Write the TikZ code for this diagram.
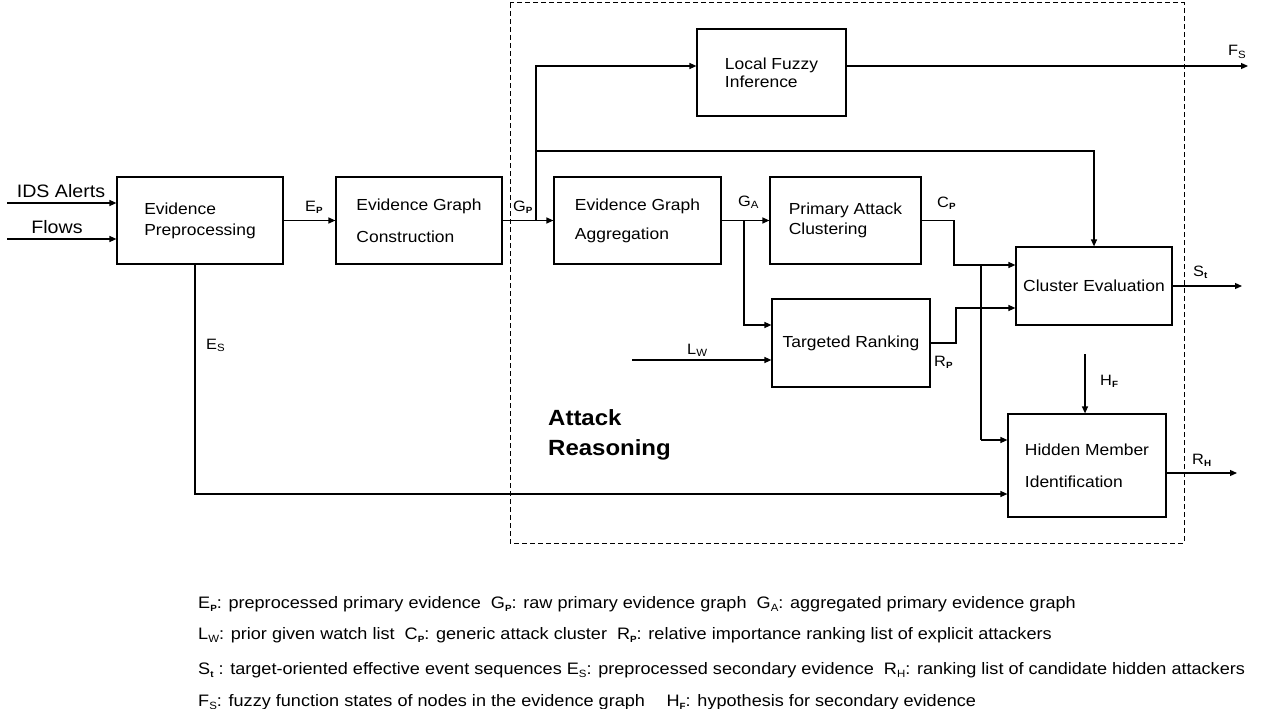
\documentclass[tikz,border=0pt]{standalone}
\usepackage{fontspec}
\setmainfont{Liberation Sans}[FakeStretch=1.09]
\usetikzlibrary{arrows.meta}
\newcommand{\sbb}[1]{\raisebox{-0.35ex}{\fontsize{9}{9}\selectfont\bfseries #1}}
\newcommand{\sbn}[1]{\raisebox{-0.35ex}{\fontsize{10.5}{10.5}\selectfont #1}}
\begin{document}
\begin{tikzpicture}[x=1pt,y=-1pt,
 box/.style={draw,line width=1.2pt,inner sep=0pt,align=left,font=\fontsize{16}{20}\selectfont},
 arr/.style={line width=1.2pt,-{Triangle[length=7pt,width=6pt]}},
 ln/.style={line width=1.2pt},
 frame/.style={line width=1pt,dash pattern=on 5pt off 3pt},
 lbl/.style={inner sep=0pt,anchor=base west,font=\fontsize{15}{18}\selectfont},
 big/.style={inner sep=0pt,anchor=base,font=\fontsize{18}{20}\selectfont},
 leg/.style={inner sep=0pt,anchor=base west,font=\fontsize{16.6}{18}\selectfont}]
\useasboundingbox (0,0) rectangle (1282,709);

% dashed frame
\draw[frame] (510,3) rectangle (1184,543);

% boxes
\node[box,minimum width=166pt,minimum height=87pt] (pre) at (200,220.5) {Evidence\\[1pt]Preprocessing};
\node[box,minimum width=166pt,minimum height=87pt] (egc) at (419,220.5) {Evidence Graph\\[12pt]Construction};
\node[box,minimum width=167pt,minimum height=87pt] (agg) at (637.5,220.5) {Evidence Graph\\[9pt]Aggregation};
\node[box,minimum width=149pt,minimum height=87pt] (lfi) at (771.5,72.5) {Local Fuzzy\\[-2pt]Inference};
\node[box,minimum width=151pt,minimum height=87pt] (pac) at (845.5,220.5) {Primary Attack\\Clustering};
\node[box,minimum width=158pt,minimum height=88pt] (tr) at (851,343) {Targeted Ranking};
\node[box,minimum width=156pt,minimum height=78pt] (ce) at (1094,286) {Cluster Evaluation};
\node[box,minimum width=158pt,minimum height=103pt] (hm) at (1087,465.5) {Hidden Member\\[12pt]Identification};

% free ends and bends
\coordinate (ids) at (7,203);
\coordinate (flw) at (7,239);
\coordinate (gpj) at (536,220.5);
\coordinate (gpt) at (536,151);
\coordinate (fse) at (1248,66);
\coordinate (gaj) at (744,220.5);
\coordinate (tra) at (744,325);
\coordinate (lw) at (632,360);
\coordinate (cpk) at (954,265);
\coordinate (vj) at (981,265);
\coordinate (hma) at (981,440);
\coordinate (rpk) at (956,308);
\coordinate (hf) at (1085,354);
\coordinate (esd) at (195,494);
\coordinate (ste) at (1242,286);
\coordinate (rhs) at (1166,473);
\coordinate (rhe) at (1237,473);

% connectors
\draw[arr] (ids) -- (ids -| pre.west);
\draw[arr] (flw) -- (flw -| pre.west);
\draw[arr] (pre.east) -- (egc.west);
\draw[arr] (egc.east) -- (agg.west);
\draw[arr] (gpj) |- (lfi.west |- fse);
\draw[arr] (lfi.east |- fse) -- (fse);
\draw[arr] (gpt) -| (ce.north);
\draw[arr] (agg.east) -- (pac.west);
\draw[arr] (gaj) |- (tr.west |- tra);
\draw[arr] (lw) -- (tr.west |- lw);
\draw[arr] (pac.east) -| (cpk) -- (ce.west |- cpk);
\draw[ln] (vj) -- (hma);
\draw[arr] (hma) -- (hm.west |- hma);
\draw[arr] (tr.east) -| (rpk) -- (ce.west |- rpk);
\draw[arr] (hf) -- (hf |- hm.north);
\draw[arr] (pre.south -| esd) |- (hm.west |- esd);
\draw[arr] (ce.east) -- (ste);
\draw[arr] (rhs) -- (rhe);

% labels
\node[big] (lids) at (61,197) {IDS Alerts};
\node[big] (lflw) at (57,233) {Flows};
\node[lbl] (lep) at (305,211) {E\sbb{P}};
\node[lbl] (lgp) at (513,211) {G\sbb{P}};
\node[lbl] (lga) at (738,206) {G\sbn{A}};
\node[lbl] (lcp) at (937,207) {C\sbb{P}};
\node[lbl] (lst) at (1193,276) {S\sbb{t}};
\node[lbl] (lrp) at (934,366) {R\sbb{P}};
\node[lbl] (lhf) at (1100,385) {H\sbb{F}};
\node[lbl] (lrh) at (1192,464) {R\sbb{H}};
\node[lbl] (llw) at (687,354) {L\sbn{W}};
\node[lbl] (les) at (206,349) {E\sbn{S}};
\node[lbl] (lfs) at (1228,56) {F\sbn{S}};
\node[inner sep=0pt,anchor=north west,align=left,font=\fontsize{22}{30}\bfseries\selectfont] (ar) at (548,409) {Attack\\Reasoning};

% legend
\node[leg] (g1) at (198,608) {E\sbb{P}: preprocessed primary evidence\ \ G\sbb{P}: raw primary evidence graph\ \ G\sbn{A}: aggregated primary evidence graph};
\node[leg] (g2) at (198,639) {L\sbn{W}: prior given watch list\ \ C\sbb{P}: generic attack cluster\ \ R\sbb{P}: relative importance ranking list of explicit attackers};
\node[leg] (g3) at (198,674) {S\sbb{t} : target-oriented effective event sequences E\sbn{S}: preprocessed secondary evidence\ \ R\sbn{H}: ranking list of candidate hidden attackers};
\node[leg] (g4) at (198,706) {F\sbn{S}: fuzzy function states of nodes in the evidence graph\quad\ H\sbb{F}: hypothesis for secondary evidence};
\end{tikzpicture}
\end{document}
